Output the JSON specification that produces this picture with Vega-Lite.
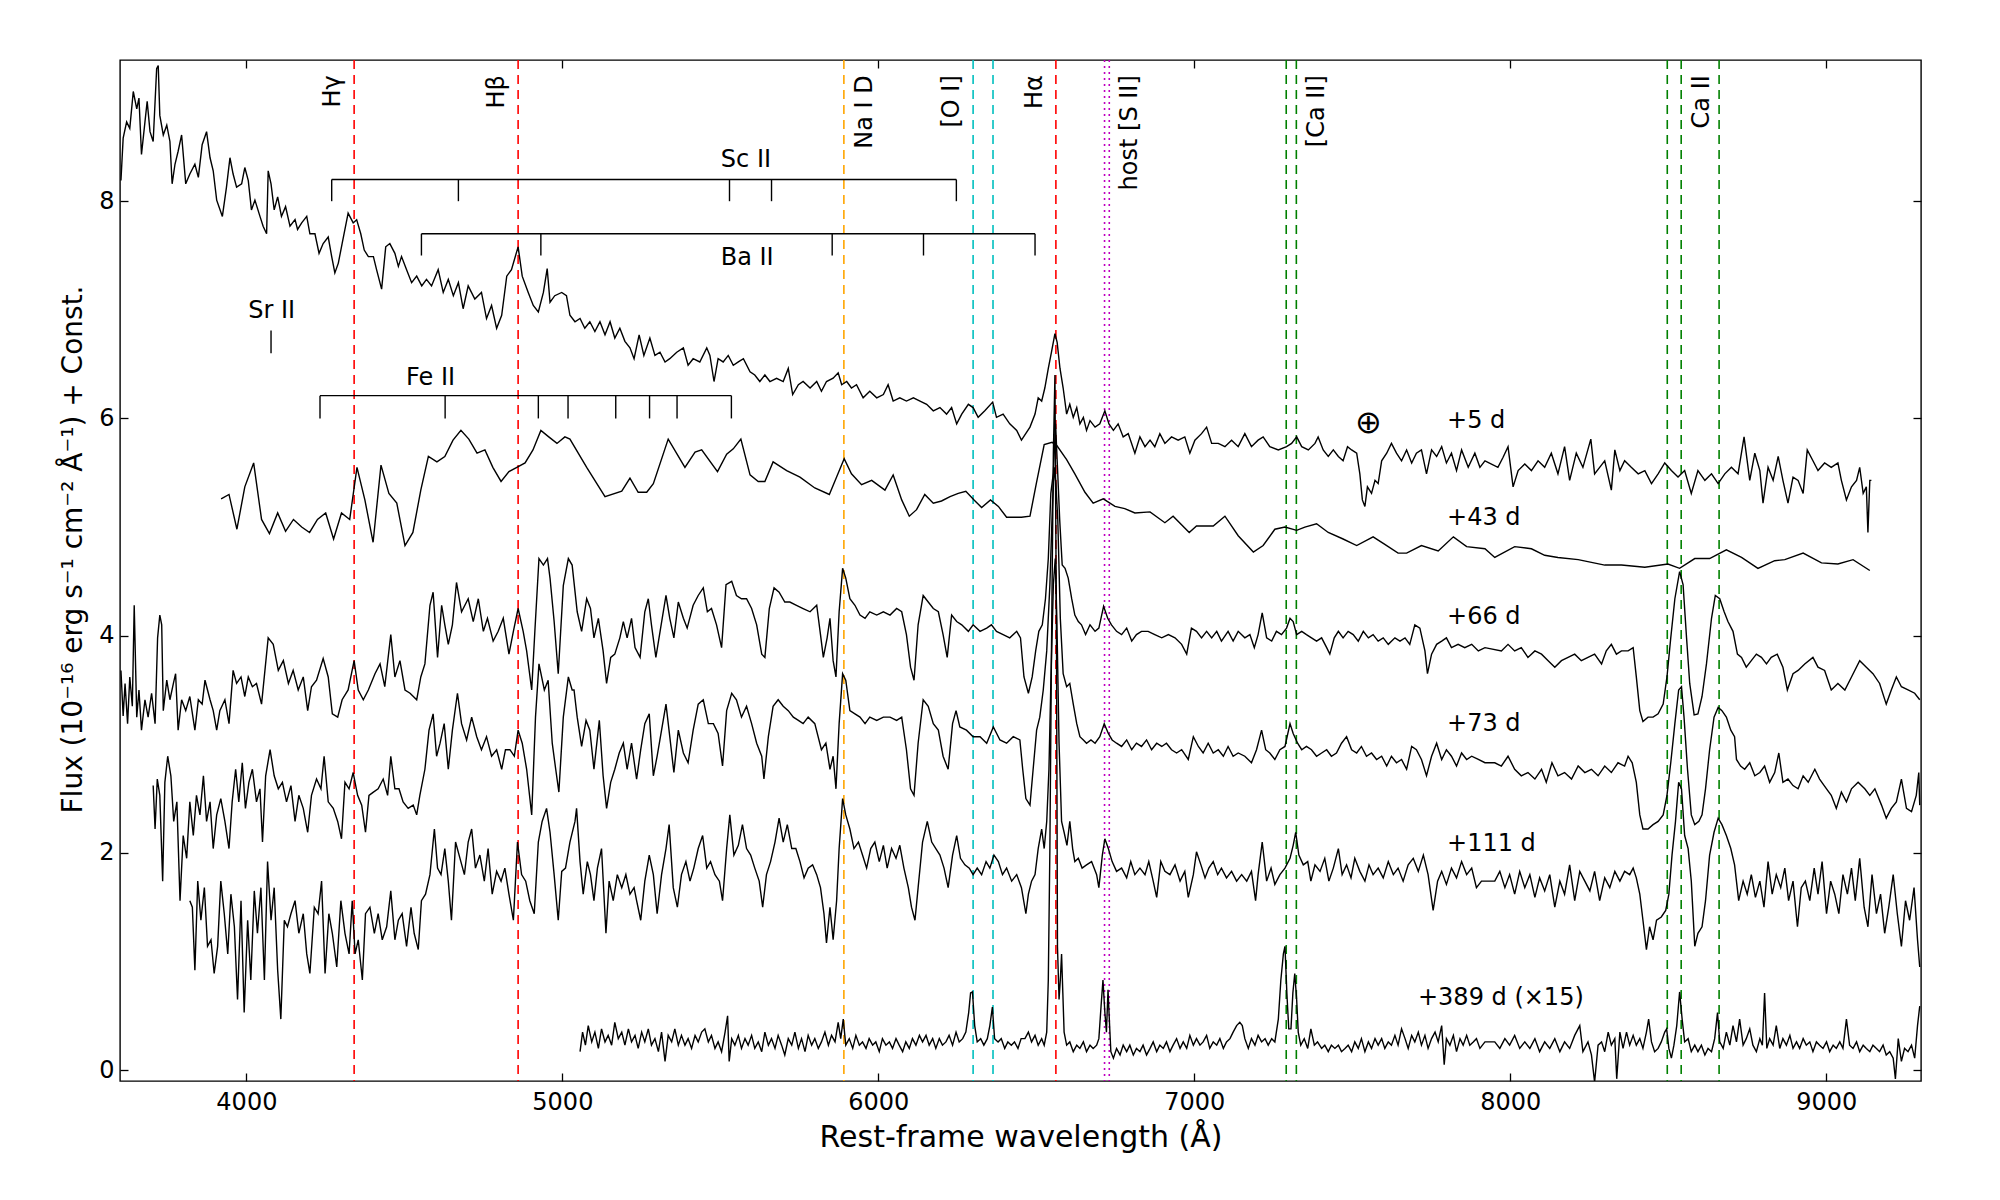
{
  "$schema": "https://vega.github.io/schema/vega-lite/v6.json",
  "width": 1801,
  "height": 1021,
  "autosize": {"type": "none"},
  "padding": {"left": 120, "top": 60, "right": 79, "bottom": 119},
  "background": "white",
  "datasets": {
    "d5": [
      {"w":3603,"f":8.19},{"w":3610,"f":8.58},{"w":3621,"f":8.73},{"w":3631,"f":8.67},{"w":3642,"f":9.01},{"w":3653,"f":8.85},{"w":3660,"f":8.95},{"w":3668,"f":8.43},{"w":3679,"f":8.73},{"w":3686,"f":8.92},{"w":3695,"f":8.64},{"w":3705,"f":8.55},{"w":3716,"f":9.22},{"w":3721,"f":9.25},{"w":3726,"f":8.79},{"w":3737,"f":8.61},{"w":3748,"f":8.70},{"w":3758,"f":8.55},{"w":3765,"f":8.16},{"w":3774,"f":8.34},{"w":3784,"f":8.46},{"w":3795,"f":8.61},{"w":3808,"f":8.16},{"w":3821,"f":8.25},{"w":3837,"f":8.34},{"w":3848,"f":8.22},{"w":3860,"f":8.52},{"w":3874,"f":8.64},{"w":3885,"f":8.40},{"w":3895,"f":8.28},{"w":3906,"f":8.01},{"w":3924,"f":7.86},{"w":3937,"f":8.13},{"w":3948,"f":8.40},{"w":3958,"f":8.25},{"w":3969,"f":8.13},{"w":3985,"f":8.16},{"w":3995,"f":8.31},{"w":4006,"f":8.19},{"w":4016,"f":7.92},{"w":4027,"f":8.01},{"w":4043,"f":7.86},{"w":4053,"f":7.77},{"w":4064,"f":7.70},{"w":4069,"f":8.28},{"w":4078,"f":8.16},{"w":4088,"f":7.92},{"w":4099,"f":8.04},{"w":4111,"f":7.86},{"w":4124,"f":7.95},{"w":4138,"f":7.77},{"w":4154,"f":7.83},{"w":4162,"f":7.74},{"w":4175,"f":7.80},{"w":4191,"f":7.86},{"w":4201,"f":7.70},{"w":4217,"f":7.70},{"w":4230,"f":7.52},{"w":4243,"f":7.61},{"w":4259,"f":7.67},{"w":4270,"f":7.49},{"w":4280,"f":7.34},{"w":4291,"f":7.43},{"w":4303,"f":7.61},{"w":4322,"f":7.89},{"w":4338,"f":7.80},{"w":4349,"f":7.83},{"w":4362,"f":7.70},{"w":4373,"f":7.55},{"w":4386,"f":7.49},{"w":4402,"f":7.49},{"w":4412,"f":7.37},{"w":4428,"f":7.19},{"w":4441,"f":7.58},{"w":4454,"f":7.61},{"w":4470,"f":7.52},{"w":4481,"f":7.40},{"w":4491,"f":7.49},{"w":4507,"f":7.37},{"w":4523,"f":7.25},{"w":4539,"f":7.31},{"w":4555,"f":7.22},{"w":4570,"f":7.28},{"w":4586,"f":7.22},{"w":4607,"f":7.37},{"w":4623,"f":7.16},{"w":4639,"f":7.28},{"w":4655,"f":7.13},{"w":4671,"f":7.25},{"w":4686,"f":7.01},{"w":4702,"f":7.22},{"w":4723,"f":7.10},{"w":4744,"f":7.16},{"w":4760,"f":6.92},{"w":4776,"f":7.04},{"w":4792,"f":6.83},{"w":4808,"f":6.95},{"w":4824,"f":7.31},{"w":4839,"f":7.37},{"w":4860,"f":7.58},{"w":4873,"f":7.31},{"w":4892,"f":7.16},{"w":4908,"f":7.04},{"w":4924,"f":6.98},{"w":4940,"f":7.16},{"w":4952,"f":7.38},{"w":4961,"f":7.07},{"w":4976,"f":7.13},{"w":4998,"f":7.16},{"w":5013,"f":7.13},{"w":5024,"f":6.95},
      {"w":5040,"f":6.89},{"w":5056,"f":6.92},{"w":5071,"f":6.83},{"w":5087,"f":6.89},{"w":5103,"f":6.80},{"w":5119,"f":6.89},{"w":5135,"f":6.77},{"w":5151,"f":6.89},{"w":5166,"f":6.74},{"w":5182,"f":6.83},{"w":5198,"f":6.71},{"w":5214,"f":6.65},{"w":5227,"f":6.55},{"w":5243,"f":6.77},{"w":5258,"f":6.58},{"w":5277,"f":6.74},{"w":5293,"f":6.58},{"w":5309,"f":6.61},{"w":5325,"f":6.52},{"w":5340,"f":6.55},{"w":5362,"f":6.61},{"w":5383,"f":6.65},{"w":5398,"f":6.49},{"w":5414,"f":6.55},{"w":5435,"f":6.52},{"w":5457,"f":6.65},{"w":5467,"f":6.58},{"w":5480,"f":6.34},{"w":5493,"f":6.55},{"w":5509,"f":6.52},{"w":5525,"f":6.58},{"w":5541,"f":6.49},{"w":5557,"f":6.52},{"w":5573,"f":6.55},{"w":5594,"f":6.43},{"w":5609,"f":6.40},{"w":5625,"f":6.34},{"w":5641,"f":6.40},{"w":5657,"f":6.34},{"w":5678,"f":6.37},{"w":5699,"f":6.34},{"w":5715,"f":6.46},{"w":5729,"f":6.22},{"w":5747,"f":6.31},{"w":5762,"f":6.34},{"w":5784,"f":6.28},{"w":5805,"f":6.34},{"w":5820,"f":6.25},{"w":5836,"f":6.34},{"w":5857,"f":6.37},{"w":5873,"f":6.42},{"w":5884,"f":6.31},{"w":5900,"f":6.34},{"w":5915,"f":6.28},{"w":5931,"f":6.31},{"w":5952,"f":6.19},{"w":5973,"f":6.25},{"w":5995,"f":6.19},{"w":6016,"f":6.22},{"w":6031,"f":6.31},{"w":6047,"f":6.16},{"w":6068,"f":6.19},{"w":6089,"f":6.16},{"w":6111,"f":6.19},{"w":6132,"f":6.16},{"w":6153,"f":6.13},{"w":6174,"f":6.07},{"w":6195,"f":6.10},{"w":6216,"f":6.04},{"w":6232,"f":6.10},{"w":6248,"f":5.95},{"w":6264,"f":6.04},{"w":6285,"f":6.13},{"w":6300,"f":6.10},{"w":6316,"f":6.01},{"w":6337,"f":6.07},{"w":6362,"f":6.15},{"w":6374,"f":6.01},{"w":6395,"f":6.04},{"w":6416,"f":5.95},{"w":6438,"f":5.89},{"w":6453,"f":5.80},
      {"w":6480,"f":5.92},{"w":6496,"f":6.04},{"w":6506,"f":6.19},{"w":6517,"f":6.16},{"w":6527,"f":6.28},{"w":6538,"f":6.46},{"w":6548,"f":6.61},{"w":6559,"f":6.78},{"w":6566,"f":6.70},{"w":6575,"f":6.46},{"w":6585,"f":6.28},{"w":6596,"f":6.04},{"w":6606,"f":6.13},{"w":6617,"f":6.01},{"w":6628,"f":6.10},{"w":6638,"f":5.95},{"w":6649,"f":6.01},{"w":6659,"f":5.89},{"w":6670,"f":5.98},{"w":6686,"f":5.92},{"w":6701,"f":5.95},{"w":6717,"f":6.07},{"w":6730,"f":5.95},{"w":6744,"f":5.89},{"w":6759,"f":5.95},{"w":6775,"f":5.83},{"w":6791,"f":5.86},{"w":6812,"f":5.68},{"w":6828,"f":5.83},{"w":6844,"f":5.74},{"w":6860,"f":5.80},{"w":6875,"f":5.74},{"w":6891,"f":5.86},{"w":6907,"f":5.77},{"w":6928,"f":5.83},{"w":6949,"f":5.80},{"w":6970,"f":5.83},{"w":6986,"f":5.68},{"w":7002,"f":5.80},{"w":7023,"f":5.86},{"w":7039,"f":5.92},{"w":7055,"f":5.77},{"w":7076,"f":5.77},{"w":7097,"f":5.74},{"w":7118,"f":5.80},{"w":7139,"f":5.74},{"w":7160,"f":5.86},{"w":7181,"f":5.74},{"w":7202,"f":5.80},{"w":7218,"f":5.83},{"w":7239,"f":5.74},{"w":7266,"f":5.71},{"w":7292,"f":5.74},{"w":7308,"f":5.77},{"w":7324,"f":5.83},{"w":7340,"f":5.74},{"w":7361,"f":5.71},{"w":7382,"f":5.77},{"w":7392,"f":5.83},{"w":7408,"f":5.71},{"w":7424,"f":5.65},{"w":7440,"f":5.71},{"w":7456,"f":5.65},{"w":7471,"f":5.61},{"w":7485,"f":5.74},{"w":7498,"f":5.71},{"w":7514,"f":5.68},{"w":7524,"f":5.49},{"w":7532,"f":5.25},{"w":7540,"f":5.19},{"w":7548,"f":5.37},{"w":7561,"f":5.31},{"w":7572,"f":5.43},{"w":7582,"f":5.40},{"w":7593,"f":5.61},{"w":7609,"f":5.68},{"w":7624,"f":5.77},{"w":7640,"f":5.68},{"w":7656,"f":5.61},{"w":7672,"f":5.71},{"w":7688,"f":5.59},{"w":7703,"f":5.68},{"w":7719,"f":5.71},{"w":7735,"f":5.49},{"w":7751,"f":5.71},{"w":7767,"f":5.65},{"w":7783,"f":5.74},{"w":7798,"f":5.59},{"w":7814,"f":5.68},{"w":7830,"f":5.52},{"w":7846,"f":5.71},{"w":7867,"f":5.55},{"w":7888,"f":5.68},{"w":7904,"f":5.55},{"w":7920,"f":5.61},
      {"w":7961,"f":5.55},{"w":7977,"f":5.64},{"w":7993,"f":5.74},{"w":8009,"f":5.37},{"w":8025,"f":5.52},{"w":8046,"f":5.58},{"w":8067,"f":5.52},{"w":8088,"f":5.61},{"w":8109,"f":5.55},{"w":8130,"f":5.68},{"w":8151,"f":5.49},{"w":8172,"f":5.74},{"w":8188,"f":5.43},{"w":8209,"f":5.68},{"w":8230,"f":5.55},{"w":8255,"f":5.81},{"w":8267,"f":5.49},{"w":8283,"f":5.55},{"w":8299,"f":5.61},{"w":8320,"f":5.34},{"w":8331,"f":5.71},{"w":8347,"f":5.52},{"w":8362,"f":5.61},{"w":8383,"f":5.55},{"w":8405,"f":5.49},{"w":8426,"f":5.52},{"w":8447,"f":5.40},{"w":8468,"f":5.49},{"w":8489,"f":5.59},{"w":8510,"f":5.52},{"w":8531,"f":5.46},{"w":8552,"f":5.52},{"w":8573,"f":5.31},{"w":8594,"f":5.52},{"w":8616,"f":5.43},{"w":8637,"f":5.49},{"w":8658,"f":5.40},{"w":8679,"f":5.49},{"w":8700,"f":5.55},{"w":8721,"f":5.49},{"w":8740,"f":5.83},{"w":8758,"f":5.43},{"w":8774,"f":5.68},{"w":8790,"f":5.52},{"w":8800,"f":5.22},{"w":8816,"f":5.55},{"w":8832,"f":5.43},{"w":8848,"f":5.65},{"w":8863,"f":5.43},{"w":8879,"f":5.22},{"w":8895,"f":5.46},{"w":8911,"f":5.43},{"w":8927,"f":5.31},{"w":8940,"f":5.71},{"w":8958,"f":5.61},{"w":8974,"f":5.52},{"w":8995,"f":5.59},{"w":9016,"f":5.55},{"w":9037,"f":5.59},{"w":9048,"f":5.43},{"w":9064,"f":5.25},{"w":9080,"f":5.37},{"w":9096,"f":5.43},{"w":9106,"f":5.55},{"w":9117,"f":5.31},{"w":9127,"f":5.37},{"w":9132,"f":4.95},{"w":9138,"f":5.43},{"w":9143,"f":5.43}
    ],
    "d43": [
      {"w":3920,"f":5.26},{"w":3945,"f":5.30},{"w":3970,"f":4.98},{"w":3995,"f":5.37},{"w":4023,"f":5.59},{"w":4048,"f":5.07},{"w":4073,"f":4.94},{"w":4099,"f":5.13},{"w":4124,"f":4.96},{"w":4149,"f":5.07},{"w":4175,"f":5.00},{"w":4200,"f":4.95},{"w":4225,"f":5.07},{"w":4251,"f":5.13},{"w":4276,"f":4.89},{"w":4301,"f":5.13},{"w":4327,"f":5.07},{"w":4350,"f":5.55},{"w":4375,"f":5.25},{"w":4401,"f":4.86},{"w":4426,"f":5.57},{"w":4451,"f":5.31},{"w":4476,"f":5.22},{"w":4502,"f":4.83},{"w":4527,"f":4.95},{"w":4552,"f":5.34},{"w":4576,"f":5.65},{"w":4603,"f":5.60},{"w":4628,"f":5.65},{"w":4654,"f":5.80},{"w":4679,"f":5.89},{"w":4704,"f":5.81},{"w":4730,"f":5.68},{"w":4755,"f":5.71},{"w":4780,"f":5.55},{"w":4806,"f":5.42},{"w":4831,"f":5.51},{"w":4856,"f":5.55},{"w":4882,"f":5.59},{"w":4907,"f":5.71},{"w":4932,"f":5.89},{"w":4957,"f":5.83},{"w":4983,"f":5.77},{"w":5008,"f":5.83},{"w":5024,"f":5.81},{"w":5077,"f":5.55},{"w":5135,"f":5.28},{"w":5188,"f":5.33},{"w":5214,"f":5.45},{"w":5240,"f":5.32},{"w":5267,"f":5.32},{"w":5288,"f":5.40},{"w":5335,"f":5.81},{"w":5388,"f":5.55},{"w":5420,"f":5.69},{"w":5441,"f":5.71},{"w":5491,"f":5.51},{"w":5520,"f":5.67},{"w":5541,"f":5.72},{"w":5565,"f":5.81},{"w":5594,"f":5.48},{"w":5620,"f":5.42},{"w":5641,"f":5.42},{"w":5667,"f":5.60},{"w":5710,"f":5.52},{"w":5752,"f":5.46},{"w":5799,"f":5.36},{"w":5845,"f":5.30},{"w":5868,"f":5.46},{"w":5892,"f":5.63},{"w":5915,"f":5.49},{"w":5947,"f":5.39},{"w":5979,"f":5.43},{"w":6021,"f":5.34},{"w":6047,"f":5.48},{"w":6074,"f":5.25},{"w":6098,"f":5.10},{"w":6121,"f":5.16},{"w":6147,"f":5.30},{"w":6174,"f":5.22},{"w":6200,"f":5.24},{"w":6227,"f":5.28},{"w":6253,"f":5.31},{"w":6277,"f":5.33},{"w":6303,"f":5.25},{"w":6327,"f":5.18},{"w":6355,"f":5.25},{"w":6380,"f":5.19},{"w":6406,"f":5.09},{"w":6453,"f":5.09},{"w":6480,"f":5.10},{"w":6500,"f":5.40},{"w":6525,"f":5.76},{"w":6550,"f":5.78},{"w":6565,"f":5.75},{"w":6596,"f":5.62},{"w":6622,"f":5.49},{"w":6654,"f":5.32},{"w":6680,"f":5.22},{"w":6712,"f":5.26},{"w":6749,"f":5.19},{"w":6780,"f":5.17},{"w":6812,"f":5.13},{"w":6860,"f":5.14},{"w":6907,"f":5.04},{"w":6933,"f":5.10},{"w":6984,"f":4.95},{"w":7007,"f":5.01},{"w":7060,"f":5.01},{"w":7097,"f":5.10},{"w":7139,"f":4.92},{"w":7187,"f":4.77},{"w":7218,"f":4.83},{"w":7255,"f":4.98},{"w":7287,"f":5.00},{"w":7324,"f":4.97},{"w":7350,"f":5.00},{"w":7387,"f":5.03},{"w":7424,"f":4.95},{"w":7471,"f":4.89},{"w":7514,"f":4.83},{"w":7566,"f":4.91},{"w":7603,"f":4.84},{"w":7645,"f":4.76},{"w":7672,"f":4.76},{"w":7719,"f":4.83},{"w":7772,"f":4.78},{"w":7820,"f":4.91},{"w":7862,"f":4.82},{"w":7920,"f":4.80},{"w":7951,"f":4.72},{"w":8014,"f":4.82},{"w":8067,"f":4.80},{"w":8109,"f":4.74},{"w":8151,"f":4.72},{"w":8215,"f":4.70},{"w":8299,"f":4.65},{"w":8352,"f":4.65},{"w":8426,"f":4.63},{"w":8499,"f":4.66},{"w":8536,"f":4.62},{"w":8584,"f":4.71},{"w":8631,"f":4.71},{"w":8684,"f":4.79},{"w":8732,"f":4.72},{"w":8784,"f":4.62},{"w":8837,"f":4.69},{"w":8869,"f":4.70},{"w":8927,"f":4.76},{"w":8985,"f":4.67},{"w":9037,"f":4.66},{"w":9085,"f":4.70},{"w":9138,"f":4.60}
    ],
    "d66": [
      {"w":3603,"f":3.68},{"w":3610,"f":3.26},{"w":3616,"f":3.56},{"w":3624,"f":3.19},{"w":3631,"f":3.62},{"w":3639,"f":3.35},{"w":3645,"f":4.28},{"w":3653,"f":3.25},{"w":3660,"f":3.50},{"w":3668,"f":3.13},{"w":3679,"f":3.41},{"w":3689,"f":3.25},{"w":3700,"f":3.47},{"w":3711,"f":3.19},{"w":3719,"f":3.98},{"w":3726,"f":4.19},{"w":3732,"f":4.10},{"w":3737,"f":3.31},{"w":3748,"f":3.59},{"w":3758,"f":3.41},{"w":3769,"f":3.56},{"w":3776,"f":3.65},{"w":3784,"f":3.13},{"w":3795,"f":3.41},{"w":3808,"f":3.31},{"w":3821,"f":3.44},{"w":3837,"f":3.13},{"w":3848,"f":3.41},{"w":3860,"f":3.37},{"w":3869,"f":3.59},{"w":3885,"f":3.41},{"w":3895,"f":3.31},{"w":3906,"f":3.13},{"w":3916,"f":3.31},{"w":3932,"f":3.41},{"w":3945,"f":3.19},{"w":3958,"f":3.68},{"w":3969,"f":3.56},{"w":3983,"f":3.62},{"w":3995,"f":3.44},{"w":4006,"f":3.62},{"w":4019,"f":3.53},{"w":4032,"f":3.56},{"w":4048,"f":3.37},{"w":4069,"f":3.98},{"w":4085,"f":3.92},{"w":4101,"f":3.68},{"w":4117,"f":3.77},{"w":4133,"f":3.56},{"w":4148,"f":3.68},{"w":4164,"f":3.50},{"w":4180,"f":3.62},{"w":4194,"f":3.31},{"w":4206,"f":3.53},{"w":4222,"f":3.59},{"w":4243,"f":3.79},{"w":4259,"f":3.62},{"w":4272,"f":3.28},{"w":4289,"f":3.25},{"w":4303,"f":3.41},{"w":4322,"f":3.50},{"w":4341,"f":3.77},{"w":4354,"f":3.50},{"w":4370,"f":3.41},{"w":4386,"f":3.50},{"w":4407,"f":3.65},{"w":4423,"f":3.74},{"w":4438,"f":3.53},{"w":4457,"f":4.01},{"w":4470,"f":3.62},{"w":4486,"f":3.77},{"w":4502,"f":3.50},{"w":4518,"f":3.47},{"w":4539,"f":3.41},{"w":4552,"f":3.62},{"w":4565,"f":3.74},{"w":4581,"f":4.28},{"w":4591,"f":4.40},{"w":4605,"f":3.80},{"w":4618,"f":4.28},{"w":4628,"f":4.10},{"w":4639,"f":3.92},{"w":4652,"f":4.10},{"w":4665,"f":4.49},{"w":4681,"f":4.22},{"w":4702,"f":4.34},{"w":4718,"f":4.13},{"w":4734,"f":4.34},{"w":4750,"f":4.04},{"w":4763,"f":4.16},{"w":4781,"f":3.95},{"w":4797,"f":4.04},{"w":4813,"f":4.16},{"w":4831,"f":3.83},{"w":4845,"f":4.04},{"w":4860,"f":4.25},{"w":4876,"f":4.04},{"w":4887,"f":3.86},{"w":4903,"f":3.50},{"w":4913,"f":4.04},{"w":4926,"f":4.71},{"w":4940,"f":4.65},{"w":4953,"f":4.71},{"w":4961,"f":4.53},{"w":4974,"f":4.13},{"w":4987,"f":3.65},{"w":5003,"f":4.46},{"w":5019,"f":4.71},{"w":5031,"f":4.65},
      {"w":5047,"f":4.22},{"w":5061,"f":4.04},{"w":5077,"f":4.34},{"w":5089,"f":4.25},{"w":5100,"f":3.98},{"w":5114,"f":4.16},{"w":5129,"f":3.86},{"w":5140,"f":3.56},{"w":5153,"f":3.80},{"w":5166,"f":3.83},{"w":5182,"f":3.98},{"w":5193,"f":4.13},{"w":5205,"f":3.98},{"w":5219,"f":4.16},{"w":5230,"f":3.89},{"w":5246,"f":3.80},{"w":5261,"f":4.22},{"w":5272,"f":4.34},{"w":5282,"f":4.10},{"w":5296,"f":3.80},{"w":5311,"f":4.07},{"w":5328,"f":4.37},{"w":5340,"f":4.16},{"w":5353,"f":3.98},{"w":5367,"f":4.31},{"w":5383,"f":4.16},{"w":5395,"f":4.07},{"w":5414,"f":4.28},{"w":5430,"f":4.37},{"w":5446,"f":4.44},{"w":5459,"f":4.22},{"w":5472,"f":4.25},{"w":5488,"f":4.10},{"w":5504,"f":3.89},{"w":5518,"f":4.47},{"w":5536,"f":4.50},{"w":5551,"f":4.37},{"w":5567,"f":4.34},{"w":5583,"f":4.34},{"w":5599,"f":4.25},{"w":5615,"f":4.10},{"w":5631,"f":3.83},{"w":5641,"f":3.80},{"w":5655,"f":4.25},{"w":5670,"f":4.44},{"w":5686,"f":4.40},{"w":5704,"f":4.31},{"w":5720,"f":4.31},{"w":5741,"f":4.28},{"w":5762,"f":4.25},{"w":5784,"f":4.22},{"w":5805,"f":4.28},{"w":5817,"f":4.01},{"w":5826,"f":3.80},{"w":5838,"f":3.98},{"w":5847,"f":4.16},{"w":5857,"f":3.77},{"w":5866,"f":3.62},{"w":5876,"f":4.22},{"w":5887,"f":4.62},{"w":5897,"f":4.53},{"w":5910,"f":4.34},{"w":5926,"f":4.28},{"w":5942,"f":4.19},{"w":5958,"f":4.16},{"w":5973,"f":4.22},{"w":5995,"f":4.19},{"w":6016,"f":4.22},{"w":6037,"f":4.19},{"w":6058,"f":4.25},{"w":6074,"f":4.22},{"w":6089,"f":4.01},{"w":6102,"f":3.71},{"w":6113,"f":3.59},{"w":6126,"f":4.10},{"w":6142,"f":4.37},{"w":6158,"f":4.31},{"w":6174,"f":4.25},{"w":6190,"f":4.22},{"w":6205,"f":4.01},{"w":6218,"f":3.80},{"w":6232,"f":4.19},{"w":6248,"f":4.13},{"w":6264,"f":4.10},{"w":6285,"f":4.04},{"w":6300,"f":4.10},{"w":6322,"f":4.04},{"w":6343,"f":4.07},{"w":6358,"f":4.10},{"w":6374,"f":4.04},{"w":6395,"f":4.01},{"w":6416,"f":3.98},{"w":6438,"f":4.04},{"w":6450,"f":3.98},{"w":6461,"f":3.62},
      {"w":6475,"f":3.47},{"w":6487,"f":3.62},{"w":6498,"f":3.86},{"w":6508,"f":4.04},{"w":6519,"f":4.10},{"w":6529,"f":4.34},{"w":6538,"f":4.71},{"w":6546,"f":5.31},{"w":6554,"f":5.50},{"w":6561,"f":5.95},{"w":6567,"f":5.55},{"w":6574,"f":5.07},{"w":6582,"f":4.65},{"w":6591,"f":4.62},{"w":6601,"f":4.53},{"w":6612,"f":4.34},{"w":6622,"f":4.19},{"w":6633,"f":4.13},{"w":6643,"f":4.10},{"w":6656,"f":4.01},{"w":6670,"f":4.10},{"w":6686,"f":4.04},{"w":6698,"f":4.07},{"w":6713,"f":4.27},{"w":6726,"f":4.16},{"w":6738,"f":4.10},{"w":6754,"f":4.04},{"w":6770,"f":4.01},{"w":6786,"f":4.07},{"w":6802,"f":3.95},{"w":6817,"f":4.01},{"w":6833,"f":4.04},{"w":6854,"f":4.04},{"w":6875,"f":4.01},{"w":6897,"f":3.98},{"w":6918,"f":4.01},{"w":6939,"f":3.98},{"w":6960,"f":3.92},{"w":6976,"f":3.83},{"w":6991,"f":4.07},{"w":7007,"f":4.04},{"w":7023,"f":3.98},{"w":7039,"f":4.04},{"w":7055,"f":3.98},{"w":7071,"f":4.04},{"w":7086,"f":3.95},{"w":7107,"f":4.04},{"w":7123,"f":3.95},{"w":7139,"f":4.04},{"w":7160,"f":3.98},{"w":7176,"f":4.01},{"w":7190,"f":3.89},{"w":7202,"f":4.01},{"w":7215,"f":4.21},{"w":7229,"f":3.98},{"w":7245,"f":3.95},{"w":7260,"f":4.04},{"w":7276,"f":4.01},{"w":7292,"f":4.07},{"w":7303,"f":4.16},{"w":7313,"f":4.13},{"w":7324,"f":4.01},{"w":7340,"f":4.04},{"w":7355,"f":4.01},{"w":7371,"f":3.98},{"w":7387,"f":3.95},{"w":7403,"f":3.98},{"w":7419,"f":3.89},{"w":7429,"f":3.83},{"w":7443,"f":3.98},{"w":7456,"f":4.04},{"w":7471,"f":3.98},{"w":7487,"f":4.04},{"w":7503,"f":4.01},{"w":7519,"f":3.95},{"w":7535,"f":4.04},{"w":7551,"f":3.98},{"w":7566,"f":4.01},{"w":7582,"f":3.95},{"w":7598,"f":3.98},{"w":7614,"f":3.92},{"w":7635,"f":3.98},{"w":7651,"f":3.95},{"w":7667,"f":3.98},{"w":7682,"f":3.92},{"w":7698,"f":4.10},{"w":7714,"f":4.07},{"w":7730,"f":3.86},{"w":7738,"f":3.65},{"w":7751,"f":3.83},{"w":7767,"f":3.92},{"w":7783,"f":3.95},{"w":7798,"f":3.98},{"w":7814,"f":3.89},{"w":7835,"f":3.92},{"w":7856,"f":3.89},{"w":7878,"f":3.92},{"w":7899,"f":3.86},{"w":7920,"f":3.89},
      {"w":7972,"f":3.86},{"w":7993,"f":3.92},{"w":8014,"f":3.86},{"w":8035,"f":3.89},{"w":8056,"f":3.80},{"w":8078,"f":3.86},{"w":8099,"f":3.83},{"w":8120,"f":3.77},{"w":8141,"f":3.71},{"w":8162,"f":3.77},{"w":8183,"f":3.80},{"w":8204,"f":3.83},{"w":8225,"f":3.77},{"w":8246,"f":3.80},{"w":8267,"f":3.83},{"w":8289,"f":3.74},{"w":8304,"f":3.86},{"w":8320,"f":3.92},{"w":8336,"f":3.83},{"w":8352,"f":3.86},{"w":8373,"f":3.86},{"w":8389,"f":3.89},{"w":8399,"f":3.62},{"w":8410,"f":3.31},{"w":8420,"f":3.21},{"w":8436,"f":3.25},{"w":8452,"f":3.25},{"w":8468,"f":3.28},{"w":8484,"f":3.37},{"w":8496,"f":3.62},{"w":8508,"f":3.98},{"w":8521,"f":4.34},{"w":8536,"f":4.59},{"w":8547,"f":4.47},{"w":8558,"f":3.98},{"w":8568,"f":3.56},{"w":8582,"f":3.27},{"w":8594,"f":3.28},{"w":8607,"f":3.44},{"w":8621,"f":3.74},{"w":8637,"f":4.16},{"w":8649,"f":4.37},{"w":8663,"f":4.34},{"w":8677,"f":4.22},{"w":8689,"f":4.13},{"w":8705,"f":4.04},{"w":8719,"f":3.83},{"w":8732,"f":3.80},{"w":8747,"f":3.71},{"w":8763,"f":3.77},{"w":8779,"f":3.83},{"w":8795,"f":3.80},{"w":8811,"f":3.74},{"w":8826,"f":3.80},{"w":8845,"f":3.83},{"w":8863,"f":3.71},{"w":8877,"f":3.50},{"w":8895,"f":3.65},{"w":8911,"f":3.68},{"w":8932,"f":3.74},{"w":8958,"f":3.80},{"w":8974,"f":3.71},{"w":8995,"f":3.68},{"w":9016,"f":3.50},{"w":9037,"f":3.56},{"w":9059,"f":3.50},{"w":9080,"f":3.62},{"w":9106,"f":3.77},{"w":9127,"f":3.71},{"w":9148,"f":3.65},{"w":9169,"f":3.56},{"w":9190,"f":3.37},{"w":9206,"f":3.50},{"w":9222,"f":3.62},{"w":9238,"f":3.53},{"w":9259,"f":3.50},{"w":9280,"f":3.47},{"w":9296,"f":3.41}
    ],
    "d73": [
      {"w":3705,"f":2.62},{"w":3711,"f":2.22},{"w":3718,"f":2.68},{"w":3726,"f":2.53},{"w":3735,"f":1.74},{"w":3742,"f":2.65},{"w":3751,"f":2.89},{"w":3761,"f":2.71},{"w":3770,"f":2.29},{"w":3780,"f":2.47},{"w":3790,"f":1.56},{"w":3800,"f":2.16},{"w":3811,"f":1.95},{"w":3821,"f":2.47},{"w":3832,"f":2.16},{"w":3842,"f":2.53},{"w":3853,"f":2.35},{"w":3864,"f":2.71},{"w":3874,"f":2.29},{"w":3885,"f":2.47},{"w":3895,"f":2.04},{"w":3906,"f":2.35},{"w":3919,"f":2.50},{"w":3932,"f":2.29},{"w":3945,"f":2.04},{"w":3955,"f":2.47},{"w":3966,"f":2.77},{"w":3976,"f":2.47},{"w":3987,"f":2.83},{"w":3997,"f":2.41},{"w":4008,"f":2.65},{"w":4019,"f":2.77},{"w":4032,"f":2.47},{"w":4043,"f":2.59},{"w":4051,"f":2.10},{"w":4061,"f":2.71},{"w":4075,"f":2.95},{"w":4088,"f":2.71},{"w":4101,"f":2.59},{"w":4114,"f":2.65},{"w":4127,"f":2.47},{"w":4141,"f":2.62},{"w":4154,"f":2.29},{"w":4166,"f":2.53},{"w":4180,"f":2.41},{"w":4194,"f":2.19},{"w":4206,"f":2.53},{"w":4222,"f":2.68},{"w":4236,"f":2.59},{"w":4246,"f":2.89},{"w":4259,"f":2.47},{"w":4275,"f":2.41},{"w":4289,"f":2.29},{"w":4301,"f":2.13},{"w":4312,"f":2.65},{"w":4325,"f":2.59},{"w":4338,"f":2.74},{"w":4352,"f":2.53},{"w":4365,"f":2.44},{"w":4377,"f":2.19},{"w":4388,"f":2.53},{"w":4402,"f":2.56},{"w":4417,"f":2.59},{"w":4433,"f":2.68},{"w":4447,"f":2.53},{"w":4457,"f":2.89},{"w":4470,"f":2.59},{"w":4483,"f":2.59},{"w":4496,"f":2.47},{"w":4512,"f":2.41},{"w":4528,"f":2.44},{"w":4539,"f":2.35},{"w":4549,"f":2.53},{"w":4565,"f":2.77},{"w":4578,"f":3.13},{"w":4591,"f":3.28},{"w":4602,"f":2.89},{"w":4613,"f":3.01},{"w":4626,"f":3.19},{"w":4639,"f":2.77},{"w":4652,"f":3.13},{"w":4668,"f":3.47},{"w":4681,"f":3.19},{"w":4697,"f":3.04},{"w":4713,"f":3.25},{"w":4729,"f":3.07},{"w":4744,"f":2.95},{"w":4760,"f":3.07},{"w":4776,"f":2.89},{"w":4792,"f":2.95},{"w":4808,"f":2.77},{"w":4820,"f":2.95},{"w":4834,"f":2.95},{"w":4848,"f":2.89},{"w":4860,"f":3.13},{"w":4873,"f":3.01},{"w":4887,"f":2.77},{"w":4903,"f":2.35},{"w":4915,"f":3.25},{"w":4926,"f":3.74},{"w":4943,"f":3.50},{"w":4955,"f":3.59},{"w":4968,"f":3.01},{"w":4979,"f":2.77},{"w":4989,"f":2.56},{"w":5003,"f":3.25},{"w":5019,"f":3.62},{"w":5031,"f":3.50},
      {"w":5037,"f":3.50},{"w":5047,"f":3.25},{"w":5061,"f":2.98},{"w":5075,"f":3.22},{"w":5087,"f":3.13},{"w":5100,"f":2.77},{"w":5117,"f":3.22},{"w":5129,"f":2.71},{"w":5140,"f":2.41},{"w":5153,"f":2.65},{"w":5166,"f":2.77},{"w":5180,"f":2.92},{"w":5193,"f":3.01},{"w":5205,"f":2.77},{"w":5219,"f":3.01},{"w":5235,"f":2.68},{"w":5248,"f":2.95},{"w":5261,"f":3.19},{"w":5275,"f":3.28},{"w":5288,"f":2.71},{"w":5300,"f":2.89},{"w":5314,"f":3.13},{"w":5328,"f":3.37},{"w":5340,"f":3.07},{"w":5353,"f":2.74},{"w":5367,"f":3.13},{"w":5383,"f":2.92},{"w":5398,"f":2.83},{"w":5414,"f":3.13},{"w":5430,"f":3.37},{"w":5446,"f":3.41},{"w":5462,"f":3.19},{"w":5478,"f":3.19},{"w":5493,"f":3.10},{"w":5507,"f":2.80},{"w":5520,"f":3.31},{"w":5536,"f":3.47},{"w":5551,"f":3.41},{"w":5567,"f":3.25},{"w":5583,"f":3.35},{"w":5599,"f":3.19},{"w":5615,"f":3.01},{"w":5631,"f":2.89},{"w":5638,"f":2.68},{"w":5652,"f":3.07},{"w":5667,"f":3.35},{"w":5683,"f":3.41},{"w":5699,"f":3.35},{"w":5715,"f":3.31},{"w":5731,"f":3.25},{"w":5747,"f":3.22},{"w":5762,"f":3.19},{"w":5778,"f":3.25},{"w":5799,"f":3.19},{"w":5820,"f":2.95},{"w":5834,"f":3.01},{"w":5847,"f":2.77},{"w":5857,"f":2.89},{"w":5866,"f":2.59},{"w":5876,"f":3.19},{"w":5887,"f":3.65},{"w":5897,"f":3.59},{"w":5910,"f":3.31},{"w":5926,"f":3.28},{"w":5942,"f":3.25},{"w":5958,"f":3.19},{"w":5973,"f":3.25},{"w":5995,"f":3.22},{"w":6016,"f":3.25},{"w":6037,"f":3.25},{"w":6058,"f":3.22},{"w":6074,"f":3.25},{"w":6089,"f":2.95},{"w":6102,"f":2.59},{"w":6113,"f":2.53},{"w":6126,"f":3.01},{"w":6142,"f":3.41},{"w":6158,"f":3.35},{"w":6174,"f":3.19},{"w":6190,"f":3.13},{"w":6205,"f":2.89},{"w":6221,"f":2.77},{"w":6235,"f":3.19},{"w":6246,"f":3.31},{"w":6258,"f":3.16},{"w":6279,"f":3.13},{"w":6300,"f":3.07},{"w":6322,"f":3.07},{"w":6343,"f":3.01},{"w":6364,"f":3.16},{"w":6385,"f":3.04},{"w":6406,"f":3.01},{"w":6427,"f":3.07},{"w":6448,"f":3.04},{"w":6457,"f":2.77},{"w":6467,"f":2.50},{"w":6480,"f":2.44},
      {"w":6490,"f":2.77},{"w":6501,"f":3.13},{"w":6511,"f":3.25},{"w":6522,"f":3.50},{"w":6533,"f":3.86},{"w":6543,"f":4.47},{"w":6551,"f":5.19},{"w":6557,"f":5.55},{"w":6562,"f":5.40},{"w":6568,"f":5.07},{"w":6576,"f":4.16},{"w":6585,"f":3.65},{"w":6596,"f":3.53},{"w":6606,"f":3.56},{"w":6617,"f":3.37},{"w":6628,"f":3.19},{"w":6638,"f":3.07},{"w":6649,"f":3.04},{"w":6659,"f":3.01},{"w":6673,"f":3.04},{"w":6686,"f":3.01},{"w":6701,"f":3.07},{"w":6715,"f":3.19},{"w":6728,"f":3.10},{"w":6740,"f":3.04},{"w":6754,"f":3.01},{"w":6770,"f":2.98},{"w":6786,"f":3.04},{"w":6802,"f":2.95},{"w":6817,"f":3.01},{"w":6833,"f":2.98},{"w":6849,"f":3.04},{"w":6865,"f":2.95},{"w":6881,"f":3.01},{"w":6897,"f":2.98},{"w":6912,"f":3.01},{"w":6928,"f":2.95},{"w":6944,"f":2.92},{"w":6960,"f":2.95},{"w":6981,"f":2.86},{"w":6997,"f":3.07},{"w":7013,"f":2.98},{"w":7028,"f":2.92},{"w":7044,"f":3.01},{"w":7060,"f":2.92},{"w":7076,"f":2.95},{"w":7092,"f":2.89},{"w":7107,"f":2.98},{"w":7123,"f":2.89},{"w":7139,"f":2.92},{"w":7160,"f":2.89},{"w":7181,"f":2.83},{"w":7197,"f":2.95},{"w":7213,"f":3.13},{"w":7226,"f":2.95},{"w":7239,"f":2.92},{"w":7255,"f":2.86},{"w":7271,"f":2.95},{"w":7287,"f":2.98},{"w":7303,"f":3.19},{"w":7313,"f":3.10},{"w":7327,"f":3.01},{"w":7340,"f":2.95},{"w":7355,"f":2.98},{"w":7371,"f":2.95},{"w":7387,"f":2.89},{"w":7403,"f":2.92},{"w":7419,"f":2.95},{"w":7434,"f":2.89},{"w":7450,"f":2.92},{"w":7466,"f":3.01},{"w":7482,"f":3.07},{"w":7498,"f":2.95},{"w":7514,"f":2.92},{"w":7529,"f":2.98},{"w":7545,"f":2.89},{"w":7561,"f":2.92},{"w":7577,"f":2.86},{"w":7593,"f":2.89},{"w":7609,"f":2.80},{"w":7624,"f":2.89},{"w":7640,"f":2.83},{"w":7656,"f":2.86},{"w":7672,"f":2.77},{"w":7688,"f":2.98},{"w":7703,"f":2.95},{"w":7719,"f":2.86},{"w":7735,"f":2.71},{"w":7751,"f":2.89},{"w":7767,"f":3.01},{"w":7783,"f":2.86},{"w":7798,"f":2.95},{"w":7814,"f":2.89},{"w":7830,"f":2.80},{"w":7846,"f":2.92},{"w":7862,"f":2.86},{"w":7878,"f":2.89},{"w":7899,"f":2.86},{"w":7920,"f":2.83},
      {"w":7951,"f":2.83},{"w":7972,"f":2.80},{"w":7993,"f":2.89},{"w":8014,"f":2.77},{"w":8035,"f":2.71},{"w":8056,"f":2.74},{"w":8078,"f":2.68},{"w":8099,"f":2.77},{"w":8114,"f":2.65},{"w":8132,"f":2.83},{"w":8151,"f":2.71},{"w":8172,"f":2.74},{"w":8194,"f":2.68},{"w":8215,"f":2.80},{"w":8236,"f":2.74},{"w":8257,"f":2.77},{"w":8278,"f":2.71},{"w":8299,"f":2.80},{"w":8320,"f":2.74},{"w":8341,"f":2.83},{"w":8362,"f":2.80},{"w":8373,"f":2.89},{"w":8386,"f":2.83},{"w":8399,"f":2.65},{"w":8410,"f":2.35},{"w":8420,"f":2.22},{"w":8436,"f":2.22},{"w":8452,"f":2.26},{"w":8468,"f":2.29},{"w":8484,"f":2.35},{"w":8496,"f":2.53},{"w":8508,"f":2.83},{"w":8521,"f":3.19},{"w":8533,"f":3.50},{"w":8542,"f":3.53},{"w":8550,"f":3.25},{"w":8561,"f":2.77},{"w":8573,"f":2.35},{"w":8584,"f":2.26},{"w":8597,"f":2.29},{"w":8607,"f":2.35},{"w":8618,"f":2.59},{"w":8631,"f":2.95},{"w":8645,"f":3.25},{"w":8658,"f":3.34},{"w":8670,"f":3.31},{"w":8684,"f":3.25},{"w":8698,"f":3.13},{"w":8710,"f":3.07},{"w":8716,"f":2.86},{"w":8729,"f":2.80},{"w":8742,"f":2.77},{"w":8758,"f":2.83},{"w":8774,"f":2.71},{"w":8790,"f":2.74},{"w":8805,"f":2.80},{"w":8821,"f":2.65},{"w":8837,"f":2.74},{"w":8850,"f":2.92},{"w":8863,"f":2.65},{"w":8879,"f":2.68},{"w":8895,"f":2.62},{"w":8911,"f":2.59},{"w":8927,"f":2.71},{"w":8943,"f":2.65},{"w":8964,"f":2.77},{"w":8979,"f":2.68},{"w":9001,"f":2.59},{"w":9016,"f":2.53},{"w":9032,"f":2.41},{"w":9048,"f":2.56},{"w":9064,"f":2.47},{"w":9080,"f":2.59},{"w":9101,"f":2.65},{"w":9122,"f":2.59},{"w":9138,"f":2.53},{"w":9154,"f":2.59},{"w":9175,"f":2.44},{"w":9190,"f":2.32},{"w":9206,"f":2.41},{"w":9222,"f":2.47},{"w":9238,"f":2.68},{"w":9254,"f":2.41},{"w":9270,"f":2.38},{"w":9285,"f":2.53},{"w":9293,"f":2.74},{"w":9296,"f":2.44}
    ],
    "d111": [
      {"w":3821,"f":1.56},{"w":3829,"f":1.50},{"w":3837,"f":0.92},{"w":3846,"f":1.74},{"w":3856,"f":1.38},{"w":3867,"f":1.68},{"w":3877,"f":1.14},{"w":3888,"f":1.20},{"w":3898,"f":0.89},{"w":3909,"f":1.14},{"w":3919,"f":1.74},{"w":3930,"f":1.44},{"w":3941,"f":1.07},{"w":3951,"f":1.62},{"w":3962,"f":1.32},{"w":3972,"f":0.65},{"w":3983,"f":1.56},{"w":3993,"f":0.53},{"w":4004,"f":1.38},{"w":4014,"f":0.83},{"w":4025,"f":1.65},{"w":4035,"f":1.26},{"w":4046,"f":1.68},{"w":4057,"f":0.83},{"w":4067,"f":1.92},{"w":4078,"f":1.38},{"w":4088,"f":1.68},{"w":4099,"f":0.92},{"w":4109,"f":0.47},{"w":4120,"f":1.38},{"w":4130,"f":1.32},{"w":4141,"f":1.44},{"w":4154,"f":1.56},{"w":4166,"f":1.26},{"w":4180,"f":1.44},{"w":4191,"f":1.07},{"w":4201,"f":0.89},{"w":4215,"f":1.50},{"w":4227,"f":1.44},{"w":4238,"f":1.74},{"w":4249,"f":0.89},{"w":4261,"f":1.44},{"w":4272,"f":1.26},{"w":4286,"f":0.95},{"w":4299,"f":1.56},{"w":4312,"f":1.26},{"w":4325,"f":1.07},{"w":4335,"f":1.56},{"w":4344,"f":1.07},{"w":4354,"f":1.20},{"w":4367,"f":0.83},{"w":4377,"f":1.44},{"w":4391,"f":1.50},{"w":4405,"f":1.26},{"w":4417,"f":1.44},{"w":4430,"f":1.20},{"w":4444,"f":1.32},{"w":4457,"f":1.65},{"w":4470,"f":1.20},{"w":4481,"f":1.38},{"w":4493,"f":1.44},{"w":4507,"f":1.14},{"w":4521,"f":1.50},{"w":4531,"f":1.26},{"w":4544,"f":1.11},{"w":4554,"f":1.56},{"w":4567,"f":1.62},{"w":4581,"f":1.80},{"w":4595,"f":2.22},{"w":4605,"f":1.86},{"w":4616,"f":1.80},{"w":4628,"f":2.04},{"w":4639,"f":1.74},{"w":4649,"f":1.38},{"w":4662,"f":2.10},{"w":4676,"f":1.95},{"w":4690,"f":1.80},{"w":4702,"f":2.10},{"w":4713,"f":2.22},{"w":4725,"f":1.86},{"w":4739,"f":1.98},{"w":4753,"f":1.74},{"w":4765,"f":2.04},{"w":4778,"f":1.62},{"w":4792,"f":1.83},{"w":4806,"f":1.74},{"w":4818,"f":1.86},{"w":4831,"f":1.62},{"w":4845,"f":1.38},{"w":4858,"f":2.10},{"w":4871,"f":1.80},{"w":4884,"f":1.74},{"w":4897,"f":1.56},{"w":4911,"f":1.44},{"w":4924,"f":2.10},{"w":4936,"f":2.29},{"w":4950,"f":2.41},{"w":4961,"f":2.19},{"w":4974,"f":1.80},{"w":4987,"f":1.38},{"w":4998,"f":1.83},{"w":5010,"f":1.86},{"w":5024,"f":2.10},{"w":5040,"f":2.29},
      {"w":5045,"f":2.41},{"w":5056,"f":1.92},{"w":5066,"f":1.62},{"w":5079,"f":1.92},{"w":5089,"f":1.80},{"w":5100,"f":1.56},{"w":5111,"f":1.86},{"w":5124,"f":2.04},{"w":5138,"f":1.26},{"w":5148,"f":1.74},{"w":5161,"f":1.56},{"w":5174,"f":1.80},{"w":5188,"f":1.68},{"w":5201,"f":1.80},{"w":5214,"f":1.62},{"w":5227,"f":1.68},{"w":5235,"f":1.56},{"w":5248,"f":1.38},{"w":5261,"f":1.74},{"w":5275,"f":1.98},{"w":5288,"f":1.80},{"w":5300,"f":1.44},{"w":5314,"f":1.80},{"w":5328,"f":2.04},{"w":5338,"f":2.26},{"w":5351,"f":1.68},{"w":5364,"f":1.50},{"w":5377,"f":1.80},{"w":5391,"f":1.92},{"w":5404,"f":1.74},{"w":5416,"f":1.86},{"w":5430,"f":2.04},{"w":5444,"f":2.16},{"w":5457,"f":1.86},{"w":5469,"f":1.92},{"w":5483,"f":1.80},{"w":5497,"f":1.74},{"w":5507,"f":1.56},{"w":5520,"f":2.04},{"w":5530,"f":2.35},{"w":5543,"f":1.98},{"w":5557,"f":2.07},{"w":5570,"f":2.26},{"w":5583,"f":2.04},{"w":5596,"f":1.98},{"w":5609,"f":1.86},{"w":5623,"f":1.74},{"w":5634,"f":1.50},{"w":5646,"f":1.80},{"w":5659,"f":1.92},{"w":5673,"f":2.10},{"w":5686,"f":2.32},{"w":5699,"f":2.10},{"w":5712,"f":2.26},{"w":5726,"f":2.04},{"w":5739,"f":2.04},{"w":5752,"f":1.92},{"w":5765,"f":1.77},{"w":5778,"f":1.86},{"w":5792,"f":1.89},{"w":5805,"f":1.80},{"w":5817,"f":1.68},{"w":5828,"f":1.44},{"w":5836,"f":1.17},{"w":5847,"f":1.50},{"w":5857,"f":1.20},{"w":5868,"f":1.56},{"w":5876,"f":2.04},{"w":5887,"f":2.50},{"w":5897,"f":2.35},{"w":5910,"f":2.22},{"w":5923,"f":2.04},{"w":5937,"f":2.10},{"w":5950,"f":1.98},{"w":5963,"f":1.86},{"w":5976,"f":2.04},{"w":5989,"f":2.10},{"w":6003,"f":1.92},{"w":6016,"f":2.07},{"w":6028,"f":1.86},{"w":6042,"f":2.04},{"w":6056,"f":1.95},{"w":6068,"f":2.07},{"w":6081,"f":1.86},{"w":6095,"f":1.68},{"w":6105,"f":1.50},{"w":6116,"f":1.38},{"w":6126,"f":1.68},{"w":6140,"f":2.10},{"w":6155,"f":2.29},{"w":6169,"f":2.10},{"w":6182,"f":2.04},{"w":6195,"f":1.98},{"w":6208,"f":1.86},{"w":6221,"f":1.68},{"w":6235,"f":1.98},{"w":6248,"f":2.16},{"w":6260,"f":1.95},{"w":6274,"f":1.89},{"w":6288,"f":1.86},{"w":6300,"f":1.80},{"w":6313,"f":1.86},{"w":6327,"f":1.80},{"w":6341,"f":1.92},{"w":6353,"f":1.86},{"w":6366,"f":1.98},{"w":6380,"f":1.92},{"w":6393,"f":1.80},{"w":6406,"f":1.86},{"w":6422,"f":1.74},{"w":6438,"f":1.80},{"w":6453,"f":1.68},{"w":6467,"f":1.44},
      {"w":6475,"f":1.62},{"w":6485,"f":1.74},{"w":6496,"f":1.80},{"w":6506,"f":2.04},{"w":6517,"f":2.22},{"w":6525,"f":2.04},{"w":6533,"f":2.29},{"w":6540,"f":2.77},{"w":6546,"f":3.56},{"w":6554,"f":4.47},{"w":6560,"f":4.71},{"w":6565,"f":4.16},{"w":6572,"f":3.01},{"w":6580,"f":2.29},{"w":6588,"f":2.19},{"w":6597,"f":2.07},{"w":6606,"f":2.29},{"w":6615,"f":2.04},{"w":6622,"f":1.92},{"w":6633,"f":1.95},{"w":6645,"f":1.86},{"w":6659,"f":1.89},{"w":6675,"f":1.92},{"w":6691,"f":1.80},{"w":6698,"f":1.68},{"w":6709,"f":1.98},{"w":6717,"f":2.13},{"w":6728,"f":2.04},{"w":6740,"f":1.92},{"w":6754,"f":1.83},{"w":6770,"f":1.86},{"w":6786,"f":1.77},{"w":6799,"f":1.92},{"w":6812,"f":1.80},{"w":6828,"f":1.86},{"w":6844,"f":1.80},{"w":6856,"f":1.92},{"w":6870,"f":1.74},{"w":6881,"f":1.59},{"w":6894,"f":1.92},{"w":6907,"f":1.83},{"w":6923,"f":1.80},{"w":6939,"f":1.89},{"w":6955,"f":1.74},{"w":6970,"f":1.83},{"w":6981,"f":1.59},{"w":6997,"f":1.80},{"w":7007,"f":2.01},{"w":7021,"f":1.89},{"w":7034,"f":1.77},{"w":7046,"f":1.86},{"w":7060,"f":1.92},{"w":7074,"f":1.80},{"w":7086,"f":1.86},{"w":7102,"f":1.77},{"w":7118,"f":1.83},{"w":7134,"f":1.74},{"w":7150,"f":1.80},{"w":7166,"f":1.74},{"w":7181,"f":1.83},{"w":7194,"f":1.56},{"w":7202,"f":1.80},{"w":7215,"f":2.10},{"w":7229,"f":1.74},{"w":7243,"f":1.86},{"w":7255,"f":1.71},{"w":7271,"f":1.80},{"w":7287,"f":1.86},{"w":7303,"f":1.95},{"w":7313,"f":2.07},{"w":7321,"f":2.19},{"w":7331,"f":1.98},{"w":7345,"f":1.89},{"w":7359,"f":1.92},{"w":7369,"f":1.74},{"w":7382,"f":1.89},{"w":7398,"f":1.83},{"w":7413,"f":1.95},{"w":7426,"f":1.74},{"w":7440,"f":1.86},{"w":7456,"f":2.04},{"w":7468,"f":1.80},{"w":7482,"f":1.89},{"w":7496,"f":1.77},{"w":7508,"f":1.95},{"w":7524,"f":1.83},{"w":7540,"f":1.74},{"w":7553,"f":1.89},{"w":7566,"f":1.80},{"w":7582,"f":1.86},{"w":7598,"f":1.77},{"w":7614,"f":1.92},{"w":7630,"f":1.80},{"w":7645,"f":1.86},{"w":7661,"f":1.74},{"w":7677,"f":1.89},{"w":7693,"f":1.95},{"w":7709,"f":1.83},{"w":7725,"f":1.98},{"w":7740,"f":1.80},{"w":7756,"f":1.47},{"w":7770,"f":1.74},{"w":7783,"f":1.83},{"w":7798,"f":1.71},{"w":7814,"f":1.86},{"w":7830,"f":1.77},{"w":7846,"f":1.92},{"w":7862,"f":1.80},{"w":7878,"f":1.86},{"w":7893,"f":1.68},{"w":7909,"f":1.74},
      {"w":7951,"f":1.74},{"w":7967,"f":1.83},{"w":7983,"f":1.68},{"w":7998,"f":1.80},{"w":8014,"f":1.62},{"w":8030,"f":1.83},{"w":8046,"f":1.68},{"w":8062,"f":1.80},{"w":8078,"f":1.59},{"w":8093,"f":1.77},{"w":8109,"f":1.65},{"w":8125,"f":1.80},{"w":8141,"f":1.50},{"w":8157,"f":1.74},{"w":8172,"f":1.62},{"w":8188,"f":1.89},{"w":8204,"f":1.56},{"w":8220,"f":1.83},{"w":8236,"f":1.74},{"w":8252,"f":1.65},{"w":8267,"f":1.83},{"w":8283,"f":1.56},{"w":8299,"f":1.77},{"w":8315,"f":1.68},{"w":8331,"f":1.83},{"w":8347,"f":1.74},{"w":8362,"f":1.83},{"w":8378,"f":1.80},{"w":8389,"f":1.86},{"w":8399,"f":1.77},{"w":8410,"f":1.62},{"w":8420,"f":1.38},{"w":8431,"f":1.11},{"w":8441,"f":1.32},{"w":8452,"f":1.20},{"w":8463,"f":1.38},{"w":8478,"f":1.41},{"w":8492,"f":1.47},{"w":8502,"f":1.62},{"w":8512,"f":1.98},{"w":8523,"f":2.29},{"w":8533,"f":2.65},{"w":8542,"f":2.59},{"w":8552,"f":2.16},{"w":8563,"f":2.04},{"w":8573,"f":1.74},{"w":8584,"f":1.14},{"w":8594,"f":1.26},{"w":8607,"f":1.32},{"w":8618,"f":1.56},{"w":8631,"f":1.98},{"w":8645,"f":2.19},{"w":8658,"f":2.32},{"w":8670,"f":2.26},{"w":8684,"f":2.16},{"w":8698,"f":2.04},{"w":8710,"f":1.89},{"w":8723,"f":1.56},{"w":8737,"f":1.74},{"w":8750,"f":1.62},{"w":8763,"f":1.80},{"w":8776,"f":1.59},{"w":8790,"f":1.74},{"w":8803,"f":1.50},{"w":8816,"f":1.92},{"w":8829,"f":1.62},{"w":8842,"f":1.80},{"w":8856,"f":1.68},{"w":8869,"f":1.86},{"w":8881,"f":1.56},{"w":8895,"f":1.74},{"w":8909,"f":1.32},{"w":8921,"f":1.68},{"w":8934,"f":1.74},{"w":8948,"f":1.56},{"w":8962,"f":1.86},{"w":8974,"f":1.62},{"w":8987,"f":1.92},{"w":9001,"f":1.44},{"w":9014,"f":1.74},{"w":9027,"f":1.62},{"w":9040,"f":1.44},{"w":9053,"f":1.80},{"w":9067,"f":1.62},{"w":9080,"f":1.86},{"w":9092,"f":1.56},{"w":9106,"f":1.95},{"w":9120,"f":1.50},{"w":9132,"f":1.32},{"w":9145,"f":1.80},{"w":9159,"f":1.44},{"w":9172,"f":1.62},{"w":9185,"f":1.26},{"w":9198,"f":1.50},{"w":9212,"f":1.80},{"w":9225,"f":1.44},{"w":9238,"f":1.14},{"w":9251,"f":1.56},{"w":9264,"f":1.38},{"w":9278,"f":1.68},{"w":9289,"f":1.20},{"w":9296,"f":0.95}
    ],
    "d389": [
      {"w":5056,"f":0.17},{"w":5064,"f":0.35},{"w":5073,"f":0.23},{"w":5082,"f":0.41},{"w":5093,"f":0.26},{"w":5103,"f":0.35},{"w":5114,"f":0.20},{"w":5124,"f":0.38},{"w":5135,"f":0.26},{"w":5145,"f":0.32},{"w":5156,"f":0.23},{"w":5166,"f":0.44},{"w":5177,"f":0.29},{"w":5188,"f":0.35},{"w":5198,"f":0.23},{"w":5209,"f":0.38},{"w":5219,"f":0.26},{"w":5230,"f":0.32},{"w":5240,"f":0.20},{"w":5251,"f":0.35},{"w":5261,"f":0.26},{"w":5272,"f":0.38},{"w":5282,"f":0.23},{"w":5293,"f":0.29},{"w":5304,"f":0.17},{"w":5314,"f":0.35},{"w":5325,"f":0.08},{"w":5335,"f":0.32},{"w":5346,"f":0.26},{"w":5356,"f":0.38},{"w":5367,"f":0.23},{"w":5377,"f":0.32},{"w":5388,"f":0.23},{"w":5398,"f":0.29},{"w":5409,"f":0.20},{"w":5420,"f":0.32},{"w":5430,"f":0.26},{"w":5441,"f":0.35},{"w":5451,"f":0.38},{"w":5462,"f":0.26},{"w":5472,"f":0.32},{"w":5483,"f":0.20},{"w":5493,"f":0.26},{"w":5504,"f":0.17},{"w":5515,"f":0.35},{"w":5523,"f":0.50},{"w":5528,"f":0.08},{"w":5536,"f":0.29},{"w":5546,"f":0.23},{"w":5557,"f":0.32},{"w":5567,"f":0.20},{"w":5578,"f":0.29},{"w":5588,"f":0.23},{"w":5599,"f":0.32},{"w":5609,"f":0.20},{"w":5620,"f":0.26},{"w":5631,"f":0.17},{"w":5641,"f":0.35},{"w":5652,"f":0.23},{"w":5662,"f":0.29},{"w":5673,"f":0.20},{"w":5683,"f":0.32},{"w":5694,"f":0.23},{"w":5704,"f":0.14},{"w":5715,"f":0.29},{"w":5726,"f":0.23},{"w":5736,"f":0.35},{"w":5747,"f":0.20},{"w":5757,"f":0.29},{"w":5768,"f":0.17},{"w":5778,"f":0.32},{"w":5789,"f":0.23},{"w":5799,"f":0.29},{"w":5810,"f":0.20},{"w":5820,"f":0.26},{"w":5831,"f":0.35},{"w":5842,"f":0.23},{"w":5852,"f":0.32},{"w":5863,"f":0.26},{"w":5873,"f":0.44},{"w":5881,"f":0.29},{"w":5889,"f":0.47},{"w":5897,"f":0.23},{"w":5908,"f":0.29},{"w":5919,"f":0.20},{"w":5929,"f":0.32},{"w":5940,"f":0.23},{"w":5950,"f":0.26},{"w":5961,"f":0.20},{"w":5971,"f":0.29},{"w":5982,"f":0.23},{"w":5992,"f":0.26},{"w":6003,"f":0.17},{"w":6013,"f":0.29},{"w":6024,"f":0.23},{"w":6035,"f":0.26},{"w":6045,"f":0.20},{"w":6056,"f":0.29},{"w":6066,"f":0.23},{"w":6077,"f":0.17},{"w":6087,"f":0.26},{"w":6098,"f":0.20},{"w":6108,"f":0.29},{"w":6119,"f":0.23},{"w":6130,"f":0.32},{"w":6140,"f":0.26},{"w":6151,"f":0.32},{"w":6161,"f":0.23},{"w":6172,"f":0.29},{"w":6182,"f":0.20},{"w":6193,"f":0.29},{"w":6203,"f":0.23},{"w":6214,"f":0.26},{"w":6224,"f":0.32},{"w":6235,"f":0.23},{"w":6246,"f":0.35},{"w":6256,"f":0.26},{"w":6267,"f":0.29},{"w":6277,"f":0.35},{"w":6286,"f":0.53},{"w":6292,"f":0.71},{"w":6298,"f":0.72},{"w":6305,"f":0.41},{"w":6313,"f":0.26},{"w":6324,"f":0.29},{"w":6334,"f":0.23},{"w":6345,"f":0.29},{"w":6353,"f":0.41},{"w":6361,"f":0.58},{"w":6368,"f":0.29},{"w":6379,"f":0.26},{"w":6389,"f":0.29},{"w":6400,"f":0.20},{"w":6410,"f":0.26},{"w":6421,"f":0.23},{"w":6431,"f":0.26},{"w":6442,"f":0.20},{"w":6452,"f":0.29},
      {"w":6464,"f":0.29},{"w":6475,"f":0.35},{"w":6485,"f":0.26},{"w":6496,"f":0.32},{"w":6506,"f":0.23},{"w":6517,"f":0.29},{"w":6525,"f":0.23},{"w":6533,"f":0.35},{"w":6538,"f":0.83},{"w":6543,"f":2.04},{"w":6548,"f":3.86},{"w":6554,"f":5.68},{"w":6559,"f":6.40},{"w":6564,"f":3.86},{"w":6567,"f":1.14},{"w":6572,"f":0.65},{"w":6576,"f":0.83},{"w":6580,"f":1.07},{"w":6584,"f":0.71},{"w":6588,"f":0.35},{"w":6596,"f":0.23},{"w":6606,"f":0.26},{"w":6617,"f":0.17},{"w":6628,"f":0.23},{"w":6638,"f":0.20},{"w":6649,"f":0.26},{"w":6659,"f":0.17},{"w":6670,"f":0.23},{"w":6680,"f":0.20},{"w":6691,"f":0.23},{"w":6698,"f":0.29},{"w":6705,"f":0.59},{"w":6711,"f":0.83},{"w":6717,"f":0.53},{"w":6722,"f":0.35},{"w":6727,"f":0.74},{"w":6732,"f":0.41},{"w":6736,"f":0.17},{"w":6744,"f":0.11},{"w":6754,"f":0.20},{"w":6765,"f":0.14},{"w":6775,"f":0.23},{"w":6786,"f":0.17},{"w":6796,"f":0.23},{"w":6807,"f":0.14},{"w":6817,"f":0.20},{"w":6828,"f":0.17},{"w":6838,"f":0.23},{"w":6849,"f":0.14},{"w":6860,"f":0.20},{"w":6870,"f":0.26},{"w":6881,"f":0.17},{"w":6891,"f":0.23},{"w":6902,"f":0.20},{"w":6912,"f":0.26},{"w":6923,"f":0.17},{"w":6933,"f":0.23},{"w":6944,"f":0.29},{"w":6955,"f":0.20},{"w":6965,"f":0.26},{"w":6976,"f":0.20},{"w":6986,"f":0.32},{"w":6997,"f":0.23},{"w":7007,"f":0.29},{"w":7018,"f":0.23},{"w":7028,"f":0.26},{"w":7039,"f":0.32},{"w":7049,"f":0.20},{"w":7060,"f":0.26},{"w":7071,"f":0.23},{"w":7081,"f":0.29},{"w":7092,"f":0.20},{"w":7102,"f":0.26},{"w":7113,"f":0.29},{"w":7123,"f":0.35},{"w":7134,"f":0.41},{"w":7144,"f":0.44},{"w":7152,"f":0.41},{"w":7160,"f":0.29},{"w":7171,"f":0.20},{"w":7181,"f":0.29},{"w":7192,"f":0.23},{"w":7202,"f":0.32},{"w":7213,"f":0.26},{"w":7224,"f":0.29},{"w":7234,"f":0.23},{"w":7245,"f":0.29},{"w":7255,"f":0.26},{"w":7266,"f":0.47},{"w":7274,"f":0.83},{"w":7282,"f":1.07},{"w":7287,"f":1.14},{"w":7293,"f":0.71},{"w":7299,"f":0.38},{"w":7306,"f":0.38},{"w":7312,"f":0.71},{"w":7318,"f":0.89},{"w":7324,"f":0.65},{"w":7329,"f":0.35},{"w":7337,"f":0.23},{"w":7348,"f":0.29},{"w":7359,"f":0.20},{"w":7369,"f":0.38},{"w":7380,"f":0.23},{"w":7390,"f":0.26},{"w":7403,"f":0.20},{"w":7413,"f":0.23},{"w":7424,"f":0.17},{"w":7434,"f":0.23},{"w":7445,"f":0.20},{"w":7456,"f":0.23},{"w":7466,"f":0.17},{"w":7477,"f":0.20},{"w":7487,"f":0.23},{"w":7498,"f":0.17},{"w":7508,"f":0.26},{"w":7519,"f":0.20},{"w":7529,"f":0.29},{"w":7540,"f":0.17},{"w":7551,"f":0.26},{"w":7561,"f":0.20},{"w":7572,"f":0.29},{"w":7582,"f":0.23},{"w":7593,"f":0.29},{"w":7603,"f":0.20},{"w":7614,"f":0.26},{"w":7624,"f":0.23},{"w":7635,"f":0.32},{"w":7645,"f":0.23},{"w":7656,"f":0.38},{"w":7667,"f":0.29},{"w":7677,"f":0.20},{"w":7688,"f":0.32},{"w":7698,"f":0.26},{"w":7709,"f":0.35},{"w":7719,"f":0.23},{"w":7730,"f":0.32},{"w":7740,"f":0.20},{"w":7751,"f":0.29},{"w":7762,"f":0.35},{"w":7772,"f":0.26},{"w":7783,"f":0.41},{"w":7791,"f":0.05},{"w":7798,"f":0.29},{"w":7809,"f":0.23},{"w":7820,"f":0.32},{"w":7830,"f":0.17},{"w":7841,"f":0.29},{"w":7851,"f":0.23},{"w":7862,"f":0.32},{"w":7872,"f":0.23},{"w":7883,"f":0.26},{"w":7893,"f":0.29},{"w":7904,"f":0.20},{"w":7920,"f":0.26},
      {"w":7951,"f":0.26},{"w":7967,"f":0.20},{"w":7983,"f":0.29},{"w":7998,"f":0.23},{"w":8014,"f":0.32},{"w":8030,"f":0.20},{"w":8046,"f":0.26},{"w":8062,"f":0.20},{"w":8078,"f":0.29},{"w":8093,"f":0.17},{"w":8109,"f":0.26},{"w":8125,"f":0.20},{"w":8141,"f":0.29},{"w":8157,"f":0.17},{"w":8172,"f":0.26},{"w":8188,"f":0.20},{"w":8204,"f":0.32},{"w":8220,"f":0.41},{"w":8230,"f":0.17},{"w":8246,"f":0.26},{"w":8257,"f":0.14},{"w":8267,"f":-0.11},{"w":8278,"f":0.23},{"w":8289,"f":0.26},{"w":8299,"f":0.17},{"w":8310,"f":0.35},{"w":8320,"f":0.23},{"w":8331,"f":0.29},{"w":8337,"f":-0.08},{"w":8347,"f":0.35},{"w":8357,"f":0.20},{"w":8368,"f":0.35},{"w":8378,"f":0.23},{"w":8389,"f":0.32},{"w":8399,"f":0.23},{"w":8410,"f":0.29},{"w":8420,"f":0.20},{"w":8431,"f":0.35},{"w":8438,"f":0.47},{"w":8447,"f":0.26},{"w":8457,"f":0.17},{"w":8468,"f":0.20},{"w":8478,"f":0.26},{"w":8489,"f":0.35},{"w":8495,"f":0.38},{"w":8502,"f":0.20},{"w":8510,"f":0.11},{"w":8518,"f":0.23},{"w":8527,"f":0.41},{"w":8536,"f":0.72},{"w":8544,"f":0.47},{"w":8552,"f":0.26},{"w":8563,"f":0.29},{"w":8573,"f":0.17},{"w":8584,"f":0.23},{"w":8594,"f":0.17},{"w":8605,"f":0.23},{"w":8616,"f":0.14},{"w":8626,"f":0.20},{"w":8637,"f":0.17},{"w":8647,"f":0.29},{"w":8656,"f":0.53},{"w":8663,"f":0.26},{"w":8674,"f":0.20},{"w":8684,"f":0.35},{"w":8695,"f":0.23},{"w":8705,"f":0.41},{"w":8716,"f":0.26},{"w":8726,"f":0.47},{"w":8737,"f":0.23},{"w":8747,"f":0.29},{"w":8758,"f":0.38},{"w":8768,"f":0.23},{"w":8779,"f":0.17},{"w":8790,"f":0.29},{"w":8798,"f":0.23},{"w":8805,"f":0.71},{"w":8812,"f":0.20},{"w":8821,"f":0.29},{"w":8832,"f":0.23},{"w":8842,"f":0.41},{"w":8853,"f":0.20},{"w":8863,"f":0.29},{"w":8874,"f":0.23},{"w":8885,"f":0.32},{"w":8895,"f":0.20},{"w":8906,"f":0.26},{"w":8916,"f":0.20},{"w":8927,"f":0.29},{"w":8937,"f":0.23},{"w":8948,"f":0.26},{"w":8958,"f":0.17},{"w":8969,"f":0.26},{"w":8979,"f":0.23},{"w":8990,"f":0.20},{"w":9001,"f":0.26},{"w":9011,"f":0.17},{"w":9022,"f":0.23},{"w":9032,"f":0.20},{"w":9043,"f":0.26},{"w":9053,"f":0.20},{"w":9064,"f":0.47},{"w":9074,"f":0.23},{"w":9085,"f":0.20},{"w":9096,"f":0.26},{"w":9106,"f":0.17},{"w":9117,"f":0.23},{"w":9127,"f":0.20},{"w":9138,"f":0.17},{"w":9148,"f":0.23},{"w":9159,"f":0.20},{"w":9169,"f":0.17},{"w":9180,"f":0.23},{"w":9190,"f":0.14},{"w":9201,"f":0.17},{"w":9212,"f":0.11},{"w":9219,"f":-0.08},{"w":9228,"f":0.29},{"w":9238,"f":0.08},{"w":9248,"f":0.20},{"w":9259,"f":0.17},{"w":9270,"f":0.23},{"w":9280,"f":0.11},{"w":9289,"f":0.41},{"w":9296,"f":0.59}
    ],
    "lines": [
      {"w":4341,"k":"H"},{"w":4860,"k":"H"},{"w":5891,"k":"Na"},{"w":6300,"k":"O"},{"w":6363,"k":"O"},{"w":6562,"k":"H"},{"w":6716,"k":"S"},{"w":6731,"k":"S"},{"w":7291,"k":"Ca"},{"w":7323,"k":"Ca"},{"w":8497,"k":"Ca"},{"w":8541,"k":"Ca"},{"w":8661,"k":"Ca"}
    ],
    "lineLabels": [
      {"lab":"Hγ","w":4341,"side":"L"},{"lab":"Hβ","w":4860,"side":"L"},{"lab":"Na I D","w":5891,"side":"R"},{"lab":"[O I]","w":6300,"side":"L"},{"lab":"Hα","w":6562,"side":"L"},{"lab":"host [S II]","w":6731,"side":"R"},{"lab":"[Ca II]","w":7323,"side":"R"},{"lab":"Ca II","w":8541,"side":"R"}
    ],
    "bars": [
      {"ion":"Sc II","w":4270,"w2":6247,"f":8.2},{"ion":"Ba II","w":4554,"w2":6496,"f":7.7},{"ion":"Fe II","w":4233,"w2":5535,"f":6.21}
    ],
    "barTicks": [
      {"w":4270,"f":8.2,"f2":8.0},{"w":4671,"f":8.2,"f2":8.0},{"w":5529,"f":8.2,"f2":8.0},{"w":5662,"f":8.2,"f2":8.0},{"w":6247,"f":8.2,"f2":8.0},
      {"w":4554,"f":7.7,"f2":7.5},{"w":4932,"f":7.7,"f2":7.5},{"w":5854,"f":7.7,"f2":7.5},{"w":6143,"f":7.7,"f2":7.5},{"w":6496,"f":7.7,"f2":7.5},
      {"w":4233,"f":6.21,"f2":6.0},{"w":4629,"f":6.21,"f2":6.0},{"w":4924,"f":6.21,"f2":6.0},{"w":5018,"f":6.21,"f2":6.0},{"w":5169,"f":6.21,"f2":6.0},{"w":5276,"f":6.21,"f2":6.0},{"w":5363,"f":6.21,"f2":6.0},{"w":5535,"f":6.21,"f2":6.0},
      {"w":4078,"f":6.81,"f2":6.6}
    ],
    "ions": [
      {"lab":"Sc II","w":5581,"f":8.38},{"lab":"Ba II","w":5585,"f":7.48},{"lab":"Fe II","w":4583,"f":6.37},{"lab":"Sr II","w":4080,"f":6.99}
    ],
    "epochs": [
      {"lab":"+5 d","w":7800,"f":5.98},{"lab":"+43 d","w":7800,"f":5.08},{"lab":"+66 d","w":7800,"f":4.17},{"lab":"+73 d","w":7800,"f":3.19},{"lab":"+111 d","w":7800,"f":2.08},{"lab":"+389 d (×15)","w":7708,"f":0.66}
    ],
    "telluric": [
      {"lab":"⊕","w":7552,"f":5.96}
    ]
  },
  "layer": [
    {
      "data": {"name": "lines"},
      "mark": {"type": "rule", "strokeWidth": 1.6},
      "encoding": {
        "x": {"field": "w", "type": "quantitative", "scale": {"domain": [3600, 9300], "nice": false, "zero": false},
              "axis": {"orient": "top", "values": [4000, 5000, 6000, 7000, 8000, 9000], "labels": false, "title": null, "tickSize": -8, "domain": false}},
        "color": {"field": "k", "type": "nominal", "legend": null,
                  "scale": {"domain": ["H", "Na", "O", "S", "Ca"], "range": ["#ff0000", "#ffa500", "#00bfbf", "#bf00bf", "#008000"]}},
        "strokeDash": {"field": "k", "type": "nominal", "legend": null,
                       "scale": {"domain": ["H", "Na", "O", "S", "Ca"], "range": [[9, 6], [9, 6], [9, 6], [2, 4], [9, 6]]}}
      }
    },
    {
      "data": {"name": "d5"},
      "mark": {"type": "line", "color": "black", "strokeWidth": 1.4, "clip": true},
      "encoding": {
        "x": {"field": "w", "type": "quantitative", "scale": {"domain": [3600, 9300], "nice": false, "zero": false},
              "axis": {"values": [4000, 5000, 6000, 7000, 8000, 9000], "format": "d", "tickSize": -8, "labelPadding": 17, "domain": false,
                       "title": "Rest-frame wavelength (Å)", "titleY": 56, "titleBaseline": "middle"}},
        "y": {"field": "f", "type": "quantitative", "scale": {"domain": [-0.1, 9.3], "nice": false, "zero": false},
              "axis": {"values": [0, 2, 4, 6, 8], "format": "d", "tickSize": -8, "labelPadding": 14, "domain": false,
                       "title": "Flux (10⁻¹⁶ erg s⁻¹ cm⁻² Å⁻¹) + Const.", "titleX": -47, "titleY": 489, "titleAngle": 270,
                       "titleFontSize": 28, "titleAlign": "center", "titleBaseline": "middle"}}
      }
    },
    {
      "data": {"name": "d43"},
      "mark": {"type": "line", "color": "black", "strokeWidth": 1.4, "clip": true},
      "encoding": {
        "x": {"field": "w", "type": "quantitative", "axis": null},
        "y": {"field": "f", "type": "quantitative", "axis": null}
      }
    },
    {
      "data": {"name": "d66"},
      "mark": {"type": "line", "color": "black", "strokeWidth": 1.4, "clip": true},
      "encoding": {
        "x": {"field": "w", "type": "quantitative", "axis": null},
        "y": {"field": "f", "type": "quantitative", "axis": null}
      }
    },
    {
      "data": {"name": "d73"},
      "mark": {"type": "line", "color": "black", "strokeWidth": 1.4, "clip": true},
      "encoding": {
        "x": {"field": "w", "type": "quantitative", "axis": null},
        "y": {"field": "f", "type": "quantitative", "axis": null}
      }
    },
    {
      "data": {"name": "d111"},
      "mark": {"type": "line", "color": "black", "strokeWidth": 1.4, "clip": true},
      "encoding": {
        "x": {"field": "w", "type": "quantitative", "axis": null},
        "y": {"field": "f", "type": "quantitative", "axis": null}
      }
    },
    {
      "data": {"name": "d389"},
      "mark": {"type": "line", "color": "black", "strokeWidth": 1.4, "clip": true},
      "encoding": {
        "x": {"field": "w", "type": "quantitative", "axis": null},
        "y": {"field": "f", "type": "quantitative", "axis": null}
      }
    },
    {
      "data": {"name": "bars"},
      "mark": {"type": "rule", "color": "black", "strokeWidth": 1.4},
      "encoding": {
        "x": {"field": "w", "type": "quantitative", "axis": null},
        "x2": {"field": "w2"},
        "y": {"field": "f", "type": "quantitative",
              "axis": {"orient": "right", "values": [0, 2, 4, 6, 8], "labels": false, "title": null, "tickSize": -8, "domain": false}}
      }
    },
    {
      "data": {"name": "barTicks"},
      "mark": {"type": "rule", "color": "black", "strokeWidth": 1.4},
      "encoding": {
        "x": {"field": "w", "type": "quantitative", "axis": null},
        "y": {"field": "f", "type": "quantitative", "axis": null},
        "y2": {"field": "f2"}
      }
    },
    {
      "data": {"name": "lineLabels"},
      "transform": [{"filter": "datum.side === 'L'"}],
      "mark": {"type": "text", "angle": 270, "align": "right", "baseline": "bottom", "dy": -9, "fontSize": 24, "font": "DejaVu Sans", "color": "black"},
      "encoding": {
        "x": {"field": "w", "type": "quantitative", "axis": null},
        "y": {"datum": 9.16, "axis": null},
        "text": {"field": "lab"}
      }
    },
    {
      "data": {"name": "lineLabels"},
      "transform": [{"filter": "datum.side === 'R'"}],
      "mark": {"type": "text", "angle": 270, "align": "right", "baseline": "top", "dy": 9, "fontSize": 24, "font": "DejaVu Sans", "color": "black"},
      "encoding": {
        "x": {"field": "w", "type": "quantitative", "axis": null},
        "y": {"datum": 9.16, "axis": null},
        "text": {"field": "lab"}
      }
    },
    {
      "data": {"name": "ions"},
      "mark": {"type": "text", "align": "center", "baseline": "middle", "fontSize": 24, "font": "DejaVu Sans", "color": "black"},
      "encoding": {
        "x": {"field": "w", "type": "quantitative", "axis": null},
        "y": {"field": "f", "type": "quantitative", "axis": null},
        "text": {"field": "lab"}
      }
    },
    {
      "data": {"name": "epochs"},
      "mark": {"type": "text", "align": "left", "baseline": "middle", "fontSize": 24, "font": "DejaVu Sans", "color": "black"},
      "encoding": {
        "x": {"field": "w", "type": "quantitative", "axis": null},
        "y": {"field": "f", "type": "quantitative", "axis": null},
        "text": {"field": "lab"}
      }
    },
    {
      "data": {"name": "telluric"},
      "mark": {"type": "text", "align": "center", "baseline": "middle", "fontSize": 32, "font": "DejaVu Sans", "fontWeight": 300, "color": "black"},
      "encoding": {
        "x": {"field": "w", "type": "quantitative", "axis": null},
        "y": {"field": "f", "type": "quantitative", "axis": null},
        "text": {"field": "lab"}
      }
    }
  ],
  "resolve": {"axis": {"x": "independent", "y": "independent"}},
  "config": {
    "view": {"stroke": "black", "strokeWidth": 1.4},
    "axis": {
      "grid": false,
      "labelFont": "DejaVu Sans",
      "titleFont": "DejaVu Sans",
      "labelFontSize": 24,
      "titleFontSize": 30,
      "titleFontWeight": "normal",
      "labelColor": "black",
      "titleColor": "black",
      "tickColor": "black",
      "tickWidth": 1.3,
      "domainColor": "black"
    }
  }
}
